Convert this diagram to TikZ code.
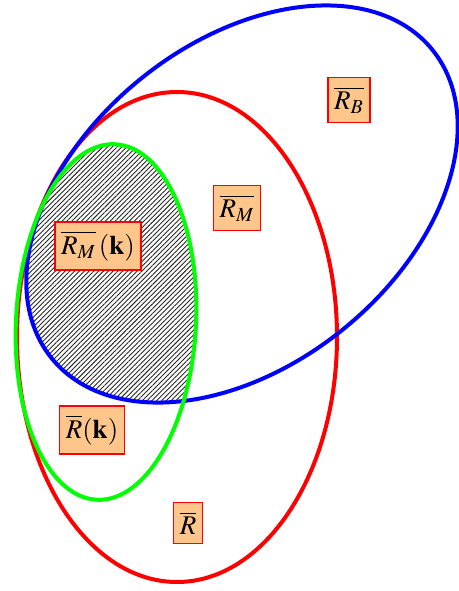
\documentclass[tikz,border=0pt]{standalone}
\usepackage{amsmath, amssymb}
\usepackage{mathptmx}
\usepackage{tikz}
\usetikzlibrary{patterns.meta}
\tikzset{
  set line/.style={line width=2pt},
  region label/.style={draw=red, line width=0.7pt, fill=orange!45, inner xsep=3pt, inner ysep=4.5pt, font=\fontsize{13.5}{15}\selectfont}
}

\begin{document}
\begin{tikzpicture}[x=0.5pt, y=0.5pt]
  \useasboundingbox (0,0) rectangle (459,591);
  % hatched part: inside blue and green
  \begin{scope}
    \clip[rotate around={39:(242,387)}] (242,387) ellipse [x radius=245, y radius=161];
    \clip[rotate around={-3:(106,269)}] (106,269) ellipse [x radius=90, y radius=178];
    \fill[pattern={Lines[angle=45, distance=1.7pt, line width=0.45pt]}, pattern color=black!85] (0,0) rectangle (459,591);
  \end{scope}
  \draw[set line, red] (177,254) ellipse [x radius=160, y radius=245];
  \draw[set line, blue, rotate around={39:(242,387)}] (242,387) ellipse [x radius=245, y radius=161];
  \draw[set line, green, rotate around={-3:(106,269)}] (106,269) ellipse [x radius=90, y radius=178];
  % labels
  \node[region label] (RB) at (349,491) {$\overline{R_B}$};
  \node[region label] (RM) at (237,383) {$\overline{R_M}$};
  \node[region label] (RMk) at (98,345) {$\overline{R_M}\,(\mathbf{k})$};
  \node[region label] (Rk) at (92,161) {$\overline{R}(\mathbf{k})$};
  \node[region label] (Rbar) at (188,68) {$\overline{R}$};
\end{tikzpicture}
\end{document}
